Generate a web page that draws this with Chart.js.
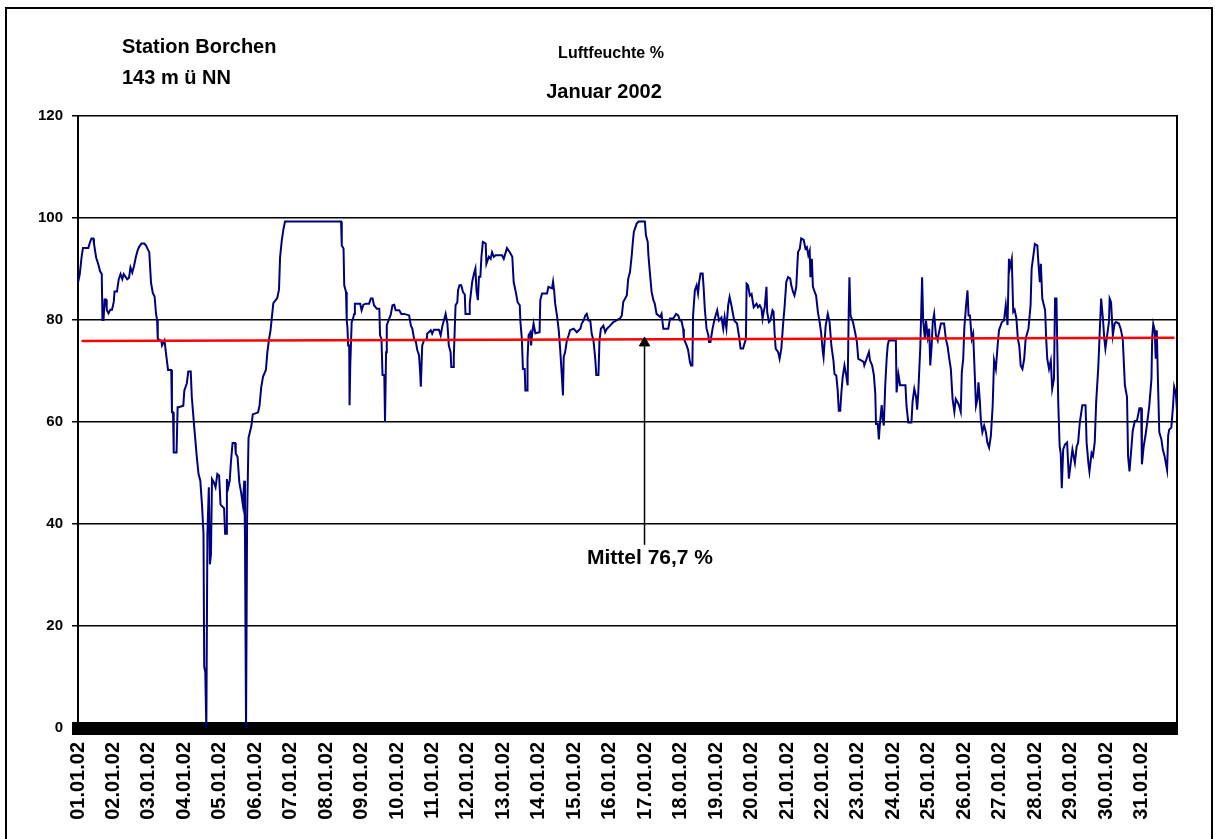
<!DOCTYPE html>
<html lang="de">
<head>
<meta charset="utf-8">
<title>Luftfeuchte Januar 2002</title>
<script src="https://cdn.jsdelivr.net/npm/chart.js@4.4.1/dist/chart.umd.min.js"></script>
<style>
    body { margin: 0; background: #fff; overflow: hidden; }
    #wrap { position: relative; width: 1215px; height: 839px; }
    #rahmen { position: absolute; left: 5px; top: 7px; width: 1204px; height: 900px;
              border: 2px solid #000; }
    .txt { position: absolute; font-family: "Liberation Sans", Arial, sans-serif;
           font-weight: bold; color: #000; line-height: 1; white-space: nowrap; }
</style>
</head>
<body>
<div id="wrap">
    <canvas id="myChart" width="1215" height="839"></canvas>
    <div id="rahmen"></div>
    <div class="txt" style="left:122px; top:36px; font-size:20px;">Station Borchen</div>
    <div class="txt" style="left:122px; top:67px; font-size:20px;">143 m ü NN</div>
    <div class="txt" style="left:511px; width:200px; text-align:center; top:45px; font-size:16px;">Luftfeuchte %</div>
    <div class="txt" style="left:504px; width:200px; text-align:center; top:81px; font-size:20px;">Januar 2002</div>
    <div class="txt" style="left:550px; width:200px; text-align:center; top:546px; font-size:21px;">Mittel 76,7 %</div>
</div>
<script>
// Zeit in Tagen seit 01.01.02 00:00 und gemessene Luftfeuchte in %
const tage = [
    0.00, 0.05, 0.10, 0.14, 0.29, 0.34, 0.38, 0.43, 0.45, 0.51,
    0.57, 0.62, 0.67, 0.69, 0.72, 0.75, 0.79, 0.81, 0.86, 0.91,
    0.96, 1.01, 1.03, 1.10, 1.15, 1.20, 1.25, 1.29, 1.39, 1.44,
    1.48, 1.53, 1.58, 1.63, 1.68, 1.72, 1.79, 1.87, 1.92, 1.96,
    2.01, 2.06, 2.11, 2.16, 2.20, 2.23, 2.25, 2.35, 2.37, 2.44,
    2.49, 2.54, 2.63, 2.65, 2.68, 2.70, 2.78, 2.81, 2.84, 2.97,
    3.00, 3.07, 3.11, 3.18, 3.21, 3.28, 3.35, 3.40, 3.45, 3.50,
    3.54, 3.56, 3.59, 3.62, 3.65, 3.69, 3.72, 3.75, 3.78, 3.83,
    3.88, 3.93, 3.98, 4.02, 4.12, 4.15, 4.19, 4.20, 4.24, 4.28,
    4.31, 4.36, 4.43, 4.45, 4.50, 4.55, 4.60, 4.65, 4.69, 4.71,
    4.74, 4.77, 4.81, 4.89, 4.93, 5.08, 5.12, 5.17, 5.22, 5.30,
    5.34, 5.39, 5.43, 5.48, 5.51, 5.62, 5.67, 5.70, 5.75, 5.80,
    5.84, 7.42, 7.44, 7.49, 7.51, 7.56, 7.58, 7.60, 7.62, 7.65,
    7.66, 7.68, 7.70, 7.72, 7.76, 7.79, 7.81, 7.96, 8.00, 8.05,
    8.12, 8.21, 8.26, 8.31, 8.35, 8.43, 8.50, 8.52, 8.56, 8.59,
    8.64, 8.66, 8.69, 8.71, 8.78, 8.82, 8.87, 8.92, 8.96, 9.06,
    9.12, 9.20, 9.34, 9.39, 9.43, 9.48, 9.53, 9.57, 9.62, 9.65,
    9.67, 9.70, 9.71, 9.76, 9.84, 9.85, 9.95, 9.99, 10.04, 10.18,
    10.23, 10.28, 10.32, 10.37, 10.42, 10.46, 10.51, 10.53, 10.59, 10.60,
    10.65, 10.70, 10.72, 10.76, 10.81, 10.86, 10.91, 10.93, 11.03, 11.05,
    11.12, 11.17, 11.21, 11.24, 11.28, 11.31, 11.35, 11.38, 11.42, 11.50,
    11.52, 11.59, 11.64, 11.68, 11.73, 11.78, 11.96, 12.01, 12.10, 12.18,
    12.25, 12.29, 12.34, 12.40, 12.46, 12.48, 12.52, 12.55, 12.60, 12.62,
    12.67, 12.68, 12.71, 12.76, 12.78, 12.81, 12.85, 12.90, 13.02, 13.04,
    13.09, 13.23, 13.27, 13.37, 13.40, 13.43, 13.46, 13.51, 13.56, 13.60,
    13.65, 13.68, 13.70, 13.74, 13.79, 13.84, 13.88, 13.98, 14.07, 14.17,
    14.21, 14.26, 14.31, 14.35, 14.40, 14.45, 14.49, 14.54, 14.59, 14.62,
    14.68, 14.71, 14.75, 14.82, 14.87, 14.92, 15.01, 15.10, 15.29, 15.34,
    15.38, 15.48, 15.52, 15.57, 15.62, 15.65, 15.68, 15.76, 15.81, 15.99,
    16.02, 16.07, 16.09, 16.13, 16.18, 16.23, 16.27, 16.32, 16.42, 16.46,
    16.51, 16.65, 16.70, 16.79, 16.87, 16.93, 16.98, 17.02, 17.07, 17.09,
    17.17, 17.21, 17.26, 17.29, 17.33, 17.35, 17.40, 17.45, 17.49, 17.52,
    17.56, 17.62, 17.65, 17.68, 17.73, 17.78, 17.80, 17.84, 17.90, 17.96,
    18.03, 18.08, 18.15, 18.20, 18.24, 18.29, 18.34, 18.38, 18.43, 18.51,
    18.59, 18.65, 18.69, 18.76, 18.84, 18.86, 18.90, 18.95, 19.00, 19.06,
    19.14, 19.18, 19.23, 19.28, 19.31, 19.34, 19.37, 19.42, 19.44, 19.49,
    19.53, 19.59, 19.62, 19.65, 19.68, 19.75, 19.79, 19.84, 19.89, 19.93,
    19.98, 20.03, 20.09, 20.12, 20.17, 20.21, 20.26, 20.31, 20.36, 20.40,
    20.47, 20.52, 20.56, 20.60, 20.64, 20.66, 20.70, 20.73, 20.78, 20.82,
    20.87, 20.92, 20.96, 21.01, 21.03, 21.09, 21.15, 21.20, 21.25, 21.31,
    21.34, 21.39, 21.43, 21.46, 21.50, 21.53, 21.57, 21.62, 21.67, 21.71,
    21.74, 21.76, 21.79, 21.86, 21.92, 21.97, 22.01, 22.09, 22.16, 22.18,
    22.23, 22.31, 22.34, 22.40, 22.45, 22.49, 22.51, 22.56, 22.59, 22.62,
    22.67, 22.70, 22.73, 22.77, 22.81, 22.84, 22.87, 23.07, 23.09, 23.14,
    23.19, 23.34, 23.37, 23.42, 23.51, 23.54, 23.59, 23.64, 23.67, 23.70,
    23.76, 23.81, 23.84, 23.89, 23.92, 23.97, 24.01, 24.04, 24.08, 24.11,
    24.15, 24.20, 24.25, 24.27, 24.34, 24.43, 24.48, 24.53, 24.57, 24.62,
    24.67, 24.72, 24.76, 24.84, 24.90, 24.93, 24.97, 25.00, 25.05, 25.09,
    25.12, 25.16, 25.21, 25.25, 25.28, 25.33, 25.37, 25.40, 25.44, 25.47,
    25.51, 25.56, 25.61, 25.65, 25.70, 25.75, 25.80, 25.84, 25.89, 25.94,
    25.98, 26.06, 26.12, 26.17, 26.22, 26.26, 26.28, 26.34, 26.38, 26.42,
    26.47, 26.51, 26.55, 26.59, 26.64, 26.69, 26.73, 26.81, 26.87, 26.90,
    26.95, 26.99, 27.06, 27.09, 27.13, 27.16, 27.20, 27.28, 27.31, 27.34,
    27.39, 27.44, 27.48, 27.53, 27.56, 27.60, 27.65, 27.69, 27.72, 27.75,
    27.79, 27.84, 27.90, 27.95, 28.00, 28.05, 28.12, 28.17, 28.21, 28.26,
    28.33, 28.42, 28.45, 28.50, 28.53, 28.59, 28.63, 28.68, 28.72, 28.78,
    28.82, 28.86, 28.91, 28.95, 28.98, 29.03, 29.08, 29.10, 29.14, 29.19,
    29.24, 29.28, 29.36, 29.41, 29.47, 29.53, 29.59, 29.62, 29.66, 29.71,
    29.75, 29.81, 29.87, 29.94, 29.99, 30.01, 30.06, 30.11, 30.16, 30.22,
    30.28, 30.30, 30.33, 30.37, 30.40, 30.43, 30.46, 30.50, 30.56, 30.60,
    30.65, 30.72, 30.75, 30.78, 30.84, 30.89, 30.92, 30.97, 31.00
];
const feuchte = [
    87.3, 89, 92.3, 94.1, 94.1, 95.3, 96, 96, 95, 92.3,
    91, 89.6, 89, 80, 80, 84, 84, 82, 81.3, 82,
    82, 83.6, 85.6, 85.6, 88, 89, 88, 89, 88, 88.3,
    90.3, 89.3, 90.6, 92.3, 93.6, 94.3, 95, 95, 94.6, 94,
    93.3, 87.3, 85.3, 84.6, 81.3, 80, 76.3, 75.9, 75, 76,
    73, 70.2, 70.2, 61.9, 61.9, 54, 54, 62.9, 62.9, 63.2,
    66.2, 67.6, 69.9, 69.9, 64.9, 58.9, 53.2, 49.8, 48.5, 43.5,
    38.1, 12, 11, 0, 38, 47.2, 32.1, 34, 48.8, 48.2,
    47.2, 49.8, 49.5, 43.8, 43.1, 38.1, 38.1, 48.8, 47.2, 48.5,
    51.8, 55.9, 55.9, 53.8, 53.2, 48.2, 46.2, 43.8, 48.5, 37.5,
    0, 41.1, 56.9, 59.2, 61.5, 61.9, 63.2, 66.9, 68.9, 70.2,
    73.6, 76.3, 77.9, 81.3, 83.3, 84.3, 86, 92.3, 95.7, 98,
    99.3, 99.3, 94.6, 94, 86.8, 85.5, 79.9, 78.6, 75, 75,
    63.3, 71.1, 71.1, 79.6, 80.3, 81.2, 83.2, 83.2, 81.9, 83,
    83.2, 83.2, 84.2, 84.2, 82.9, 82.2, 82.2, 77, 76.3, 69.2,
    69.2, 60, 73.7, 79, 80.3, 81, 82.9, 83, 81.9, 81.9,
    81.2, 81.2, 80.9, 78.9, 78.3, 76.3, 75.7, 74.1, 73.1, 69.8,
    66.9, 73.1, 75, 76, 76.3, 77.3, 78, 77.3, 78.1, 78.1,
    77, 78.9, 79.9, 81.2, 79.3, 75, 73.7, 70.8, 70.8, 72.7,
    82.9, 83.5, 85.8, 86.8, 86.8, 85.5, 85, 81.2, 81.2, 83.2,
    87.5, 89.1, 90.1, 85.8, 83.9, 88.5, 88.5, 92.4, 95.3, 95,
    91, 92.4, 92, 93.3, 92.4, 92.7, 92.7, 92, 94.1, 93.3,
    92.4, 87.4, 85.8, 83.5, 82.9, 79.6, 76.3, 70.4, 70.4, 66.2,
    66.2, 72.4, 77, 77.6, 75, 77.3, 79.3, 77.4, 77.6, 83.9,
    85.2, 85.2, 86.5, 86.2, 87.5, 85.8, 83.2, 80.9, 78, 74.4,
    68.8, 65.2, 72.7, 73.7, 76, 77, 78, 78.3, 77.6, 78.3,
    79.3, 79.9, 80.9, 81.2, 79.9, 79.9, 77.3, 76, 72.4, 69.2,
    69.2, 76, 78.3, 78.9, 77.6, 78.3, 78.9, 79.6, 80.3, 80.9,
    83.5, 84.8, 88.1, 89.4, 92.7, 95.3, 97.3, 98.9, 99.3, 99.3,
    96.6, 95.3, 92.7, 89.4, 85.5, 83.9, 83.2, 81.2, 80.6, 81.2,
    78.3, 78.3, 80.3, 80.3, 81.2, 80.9, 79.9, 79.9, 78.3, 76.3,
    75, 74.1, 71.8, 71.1, 71.1, 80.9, 85.8, 86.8, 85.2, 87.4,
    89.1, 89.1, 86.1, 82.2, 78.3, 77, 75.7, 75.7, 78.3, 80.3,
    81.9, 79.9, 80.5, 78.3, 80.6, 78.3, 82.9, 84.5, 82.9, 79.9,
    79.3, 76.6, 74.4, 74.4, 76.3, 87.1, 86.8, 84.8, 85.1, 82.5,
    83.2, 82.5, 82.9, 82.2, 80.3, 81.6, 82.5, 86.5, 81.6, 79.6,
    79.9, 81.9, 81.6, 77.3, 74.4, 73.7, 72.4, 74.4, 79.3, 82.5,
    87.5, 88.4, 88.1, 86.8, 85.5, 84.8, 86.5, 93.3, 94, 96,
    95.7, 94, 94.3, 92.7, 93.6, 88.4, 92, 86.5, 85.5, 84.8,
    81.6, 79.6, 77.6, 73.7, 72.7, 78.9, 81.2, 79.6, 75, 72,
    69.4, 69.1, 66.1, 62.2, 62.2, 65.5, 68.8, 71.1, 69.1, 67.2,
    81.6, 88.4, 80.9, 79.6, 77.6, 75.7, 72.4, 72.1, 71.8, 71.1,
    72.1, 73.7, 72.1, 71.1, 69.2, 65.5, 59.6, 59.6, 56.6, 59.6,
    63.3, 60.6, 59.3, 67.2, 72.4, 75, 76, 76, 65.8, 69.4,
    67.2, 67.2, 63.2, 59.9, 59.9, 63.9, 66.5, 64.9, 62.4, 65.5,
    74.8, 88.4, 79.9, 76.3, 79.9, 76.6, 78.3, 71.1, 75, 79.6,
    81.2, 77, 76, 77, 79.3, 79.3, 76.3, 74.8, 72.7, 70.4,
    64.5, 62, 64.5, 63.5, 62, 69.8, 72.4, 78.3, 82.9, 85.8,
    80.9, 80.9, 76.3, 77.3, 72, 63.2, 64.5, 67.8, 64, 60,
    58, 59.3, 58, 56, 55, 57.3, 63.1, 72.1, 70.4, 75,
    78, 79.6, 79.9, 82.9, 79, 92, 90, 92, 81.6, 82,
    80.3, 76.3, 75, 71.1, 70.4, 72.4, 76.3, 78.3, 82.9, 90.1,
    92.7, 94.9, 94.6, 91.3, 87.4, 91, 84.2, 81.9, 76.3, 72.4,
    70.4, 72, 66.5, 68.5, 84.2, 84.2, 63.9, 55.2, 53.9, 47,
    54.6, 55.6, 56, 48.9, 51.8, 54.6, 52, 55.2, 55.9, 60,
    63.3, 63.3, 56, 52, 50.3, 53.9, 53.3, 56.1, 63.9, 70.8,
    77.6, 84.2, 80.3, 76.3, 74.4, 77, 79.6, 84.2, 83.5, 77,
    79.3, 79.6, 79.3, 78.3, 76.3, 67.2, 64.9, 53.3, 50.3, 54.6,
    58.2, 60.2, 60.2, 62.7, 62.7, 51.7, 55.2, 57.3, 59.9, 63.3,
    68.5, 76.6, 79.2, 78, 72.4, 78, 68.9, 58, 56.6, 54.6,
    53.3, 50.6, 57.3, 58.5, 58.9, 63.3, 66.9, 65.5, 62
];

// rote Mittel-Linie (leicht geneigt wie im Original)
const mittelTage = [0.1, 30.93];
const mittelWerte = [75.9, 76.5];

// Pfeil zur Beschriftung "Mittel 76,7 %"
const pfeilTage = [15.98, 15.98];
const pfeilWerte = [35.9, 75.5];

const datumLabels = [
    "01.01.02", "02.01.02", "03.01.02", "04.01.02", "05.01.02", "06.01.02",
    "07.01.02", "08.01.02", "09.01.02", "10.01.02", "11.01.02", "12.01.02",
    "13.01.02", "14.01.02", "15.01.02", "16.01.02", "17.01.02", "18.01.02",
    "19.01.02", "20.01.02", "21.01.02", "22.01.02", "23.01.02", "24.01.02",
    "25.01.02", "26.01.02", "27.01.02", "28.01.02", "29.01.02", "30.01.02",
    "31.01.02"
];

function toPoints(xs, ys) {
    return xs.map((x, i) => ({ x: x, y: ys[i] }));
}

function initChart() {
    const chartElement = document.getElementById("myChart");
    const schrift = "'Liberation Sans', Arial, sans-serif";

    Chart.defaults.font.family = schrift;
    Chart.defaults.font.weight = "bold";
    Chart.defaults.color = "#000";

    new Chart(chartElement, {
        type: "line",
        data: {
            datasets: [
                {
                    label: "Pfeil",
                    data: toPoints(pfeilTage, pfeilWerte),
                    borderColor: "#000",
                    borderWidth: 1.5,
                    pointRadius: [0, 6],
                    pointStyle: "triangle",
                    pointBackgroundColor: "#000",
                    pointBorderColor: "#000",
                    pointBorderWidth: 1,
                    order: 0
                },
                {
                    label: "Mittel",
                    data: toPoints(mittelTage, mittelWerte),
                    borderColor: "#ff0000",
                    borderWidth: 2.5,
                    pointRadius: 0,
                    order: 1
                },
                {
                    label: "Luftfeuchte",
                    data: toPoints(tage, feuchte),
                    borderColor: "#00007f",
                    borderWidth: 2,
                    pointRadius: 0,
                    tension: 0,
                    order: 2
                }
            ]
        },
        options: {
            responsive: false,
            animation: false,
            layout: { padding: { top: 116, left: 0, right: 0, bottom: 0 } },
            plugins: {
                legend: { display: false },
                tooltip: { enabled: false }
            },
            scales: {
                x: {
                    type: "linear",
                    min: 0,
                    max: 31,
                    afterFit: s => { s.height = 111; },
                    grid: { display: true, drawOnChartArea: false, drawTicks: false },
                    border: { display: true, color: "#000", width: 13 },
                    ticks: {
                        stepSize: 1,
                        autoSkip: false,
                        minRotation: 90,
                        maxRotation: 90,
                        padding: 14,
                        font: { size: 20, weight: "bold" },
                        callback: v => datumLabels[v] ?? ""
                    }
                },
                y: {
                    min: 0,
                    max: 120,
                    afterFit: s => { s.width = 78; },
                    grid: { color: "#000", lineWidth: 1.5, tickLength: 6, drawTicks: true },
                    border: { display: true, color: "#000", width: 2 },
                    ticks: {
                        stepSize: 20,
                        padding: 9,
                        font: { size: 15, weight: "bold" }
                    }
                },
                y2: {
                    position: "right",
                    min: 0,
                    max: 120,
                    afterFit: s => { s.width = 35; },
                    grid: { drawOnChartArea: false, drawTicks: false },
                    border: { display: true, color: "#000", width: 2 },
                    ticks: { display: false }
                }
            }
        }
    });
}

initChart();
</script>
</body>
</html>
